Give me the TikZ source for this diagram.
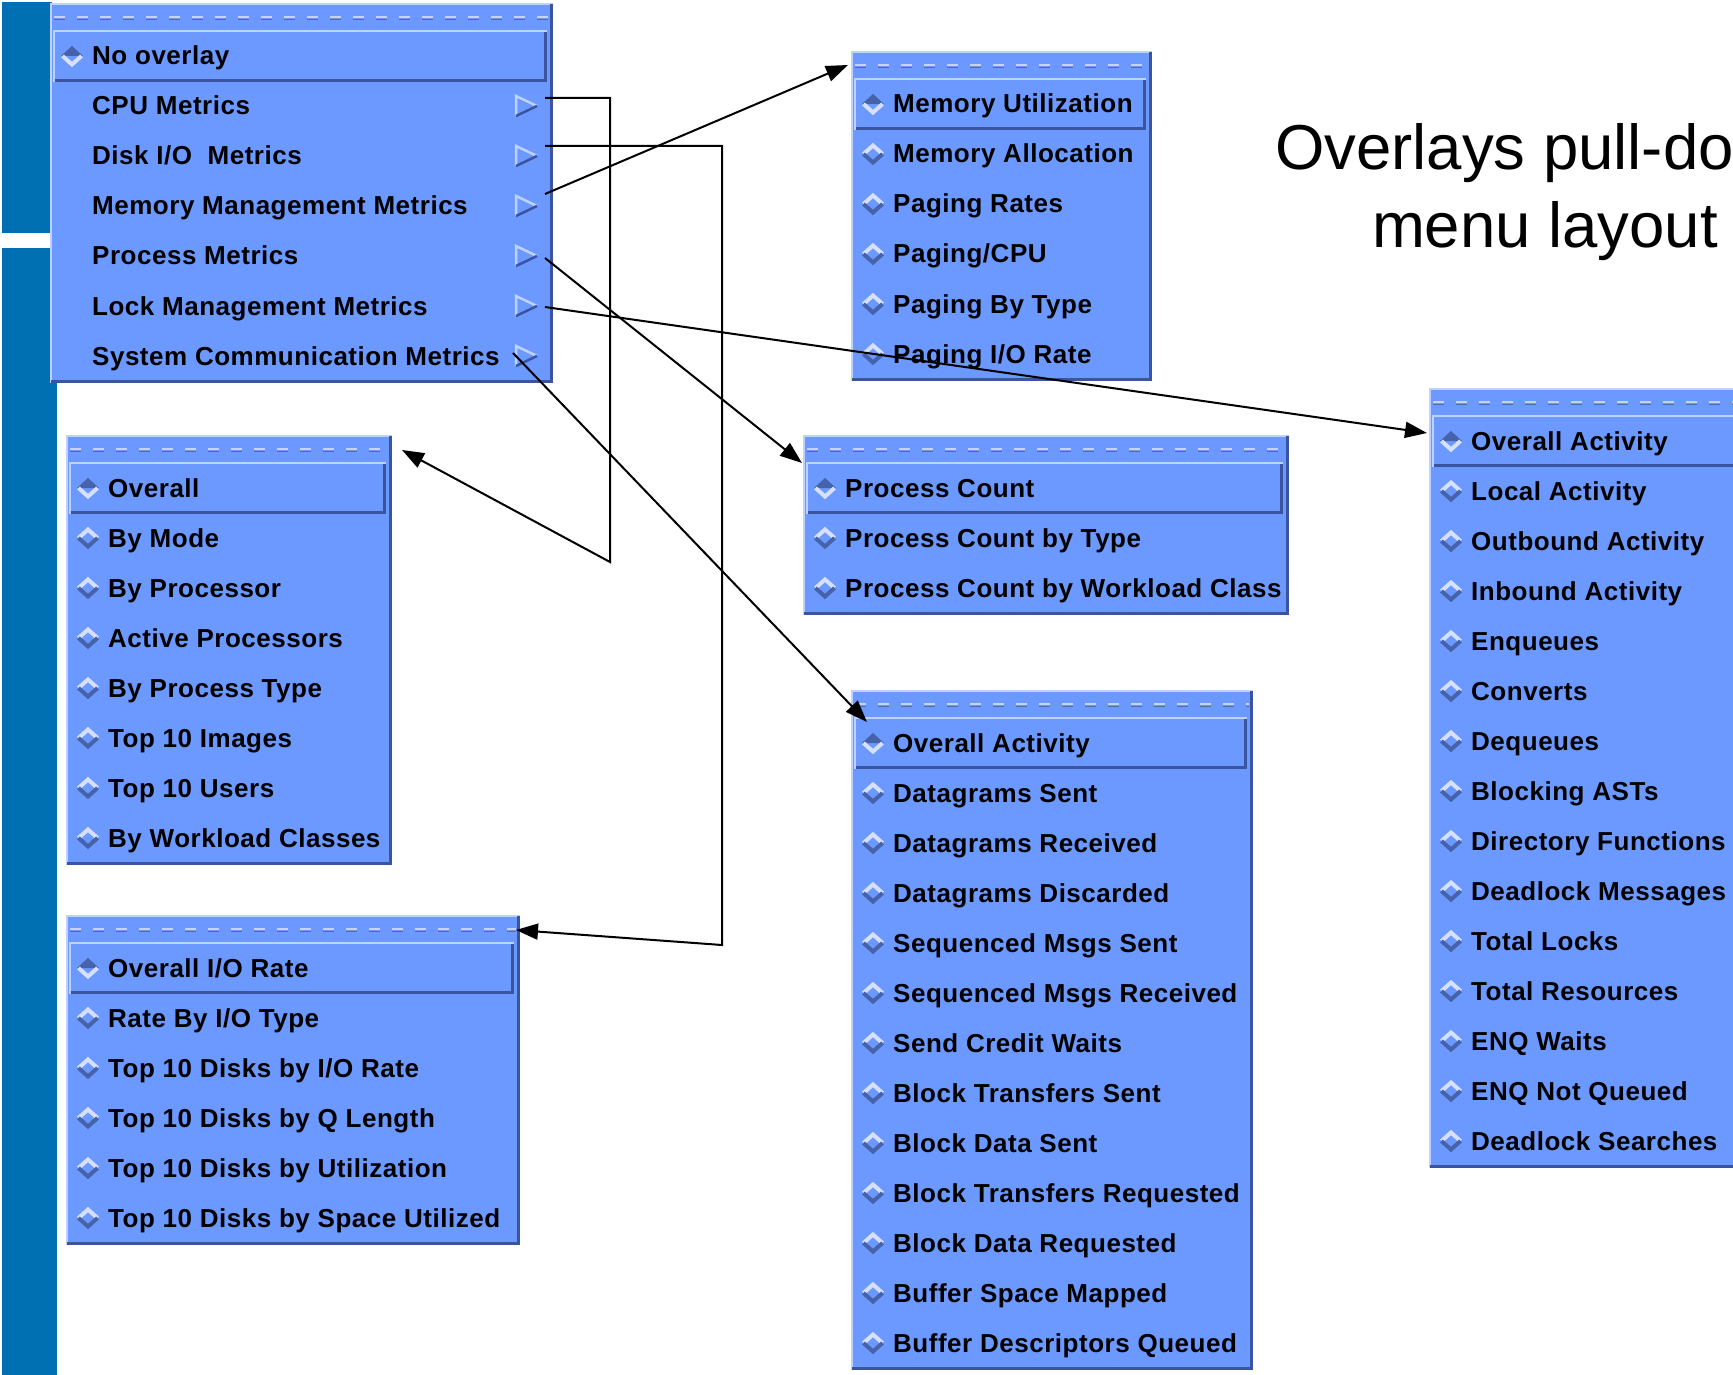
\documentclass[tikz,border=0pt]{standalone}
\usepackage{fontspec}
\setmainfont{Liberation Sans}
\newfontfamily\menufont[LetterSpace=2]{Liberation Sans}
\usetikzlibrary{calc,arrows.meta}
\definecolor{panelblue}{RGB}{108,153,255}
\definecolor{hlblue}{RGB}{190,210,255}
\definecolor{shblue}{RGB}{58,84,160}
\definecolor{dashlt}{RGB}{200,210,232}
\definecolor{dashdk}{RGB}{80,108,176}
\definecolor{dialt}{RGB}{215,225,255}
\definecolor{diadk}{RGB}{70,98,168}
\definecolor{barblue}{RGB}{0,112,178}
\tikzset{
 panel/.style={anchor=north west, fill=panelblue, draw=none, inner sep=0pt, outer sep=0pt},
 hl/.style={draw=hlblue, line width=2.5pt},
 sh/.style={draw=shblue, line width=3pt},
 itm/.style={anchor=base west, inner sep=0pt, font=\menufont\bfseries\fontsize{26}{30}\selectfont, text=black},
 ttl/.style={anchor=base, inner sep=0pt, font=\fontsize{63.5}{76}\selectfont, text=black},
 conn/.style={draw=black, line width=2pt, line join=miter, -{Triangle[length=22pt,width=16pt]}},
 dashA/.style={draw=dashlt, line width=2pt, dash pattern=on 11pt off 12pt},
 dashB/.style={draw=dashdk, line width=1.5pt, dash pattern=on 11pt off 12pt},
 dialine/.style={line width=4pt, line join=miter},
}
\newcommand\menudia[3]{%
 \ifnum#3=1
  \fill[diadk] (#1-11,#2) -- (#1,#2-10) -- (#1+11,#2) -- cycle;
  \draw[dialine, dialt] (#1-9.5,#2) -- (#1,#2+8.5) -- (#1+9.5,#2);
 \else
  \draw[dialine, dialt] (#1-9.5,#2) -- (#1,#2-8.5) -- (#1+9.5,#2);
  \draw[dialine, diadk] (#1-9.5,#2) -- (#1,#2+8.5) -- (#1+9.5,#2);
 \fi}
\newcommand\menuarrow[2]{%
 \draw[hlblue, line width=2.5pt, line join=miter] (#1-37,#2+10) -- (#1-37,#2-10) -- (#1-16,#2);
 \draw[shblue, line width=2.5pt] (#1-16,#2) -- (#1-37,#2+10);}
\newcommand\drawmenu[6]{%
 \pgfmathsetmacro\mXa{#2}\pgfmathsetmacro\mXb{#3}\pgfmathsetmacro\mTop{#4}%
 \gdef\menuN{0}%
 \foreach \mItem in {#5}{\xdef\menuN{\the\numexpr\menuN+1\relax}}%
 \pgfmathsetmacro\mBot{\mTop+30+50*\menuN}%
 \pgfmathsetmacro\mW{\mXb-\mXa}\pgfmathsetmacro\mH{\mBot-\mTop}%
 \node[panel, minimum width=\mW pt, minimum height=\mH pt] (#1P) at (\mXa,\mTop) {};
 \draw[hl] (\mXa+1,\mBot) -- (\mXa+1,\mTop+1) -- (\mXb,\mTop+1);
 \draw[sh] (\mXa+1,\mBot-1.5) -- (\mXb-1.5,\mBot-1.5) -- (\mXb-1.5,\mTop+1);
 \draw[dashA] (\mXa+4,\mTop+14) -- (\mXb-4,\mTop+14);
 \draw[dashB] (\mXa+4,\mTop+16.5) -- (\mXb-4,\mTop+16.5);
 \draw[hl] (\mXa+4,\mTop+79) -- (\mXa+4,\mTop+28) -- (\mXb-6,\mTop+28);
 \draw[sh] (\mXa+5,\mTop+77.5) -- (\mXb-7.5,\mTop+77.5) -- (\mXb-7.5,\mTop+29);
 \foreach \mItem [count=\i] in {#5}{%
  \pgfmathsetmacro\cy{\mTop+3+50*\i}%
  \pgfmathsetmacro\cx{\mXa+22}%
  \ifnum\i=1 \menudia{\cx}{\cy}{1}\else
   \ifnum#6=1 \menuarrow{\mXb}{\cy}\else \menudia{\cx}{\cy}{0}\fi
  \fi
  \node[itm] (#1-\i) at (\mXa+42,\cy+9) {\mItem};
 }%
}
\begin{document}
\begin{tikzpicture}[x=1pt,y=-1pt]
\useasboundingbox (0,0) rectangle (1733,1375);
\begin{scope}
\clip (0,0) rectangle (1733,1375);
\fill[white] (0,0) rectangle (1733,1375);
\fill[barblue] (2,2) rectangle (52,233);
\fill[barblue] (2,248) rectangle (57,1375);

\node[ttl] (title1) at (1545,170) {Overlays pull-down};
\node[ttl] (title2) at (1545,248) {menu layout};

\drawmenu{main}{50}{553}{3}{No overlay,CPU Metrics,Disk I/O\ \ Metrics,Memory Management Metrics,Process Metrics,Lock Management Metrics,System Communication Metrics}{1}
\drawmenu{mem}{851}{1152}{51}{Memory Utilization,Memory Allocation,Paging Rates,Paging/CPU,Paging By Type,Paging I/O Rate}{0}
\drawmenu{cpu}{66}{392}{435}{Overall,By Mode,By Processor,Active Processors,By Process Type,Top 10 Images,Top 10 Users,By Workload Classes}{0}
\drawmenu{disk}{66}{520}{915}{Overall I/O Rate,Rate By I/O Type,Top 10 Disks by I/O Rate,Top 10 Disks by Q Length,Top 10 Disks by Utilization,Top 10 Disks by Space Utilized}{0}
\drawmenu{proc}{803}{1289}{435}{Process Count,Process Count by Type,Process Count by Workload Class}{0}
\drawmenu{sys}{851}{1253}{690}{Overall Activity,Datagrams Sent,Datagrams Received,Datagrams Discarded,Sequenced Msgs Sent,Sequenced Msgs Received,Send Credit Waits,Block Transfers Sent,Block Data Sent,Block Transfers Requested,Block Data Requested,Buffer Space Mapped,Buffer Descriptors Queued}{0}
\drawmenu{lock}{1429}{1760}{388}{Overall Activity,Local Activity,Outbound Activity,Inbound Activity,Enqueues,Converts,Dequeues,Blocking ASTs,Directory Functions,Deadlock Messages,Total Locks,Total Resources,ENQ Waits,ENQ Not Queued,Deadlock Searches}{0}

\coordinate (oCPU)  at ($(mainP.north east)+(-8,95)$);
\coordinate (oDisk) at ($(mainP.north east)+(-8,143)$);
\coordinate (oMem)  at ($(mainP.north east)+(-8,191)$);
\coordinate (oProc) at ($(mainP.north east)+(-8,255)$);
\coordinate (oLock) at ($(mainP.north east)+(-8,304)$);
\coordinate (oSys)  at ($(mainP.north east)+(-40,350)$);
\coordinate (iCPU)  at ($(cpuP.north east)+(10,15)$);
\coordinate (iDisk) at ($(diskP.north east)+(-4,15)$);
\coordinate (iMem)  at ($(memP.north west)+(-3,14)$);
\coordinate (iProc) at ($(procP.north west)+(-1,28)$);
\coordinate (iLock) at ($(lockP.north west)+(-2,45)$);
\coordinate (iSys)  at ($(sysP.north west)+(16,32)$);
\coordinate (bCPU)  at (610,562);
\coordinate (bDisk) at (722,945);

\draw[conn] (oCPU) -| (bCPU) -- (iCPU);
\draw[conn] (oDisk) -| (bDisk) -- (iDisk);
\draw[conn] (oMem) -- (iMem);
\draw[conn] (oProc) -- (iProc);
\draw[conn] (oLock) -- (iLock);
\draw[conn] (oSys) -- (iSys);
\end{scope}
\end{tikzpicture}
\end{document}
